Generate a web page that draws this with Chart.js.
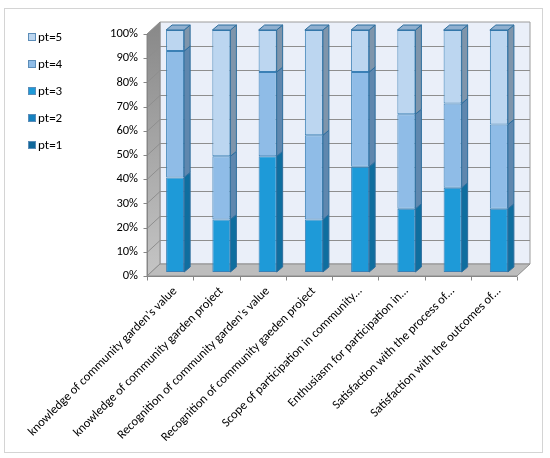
<!DOCTYPE html>
<html>
<head>
<meta charset="utf-8">
<script src="https://cdn.jsdelivr.net/npm/chart.js@4"></script>
<style>
  body { margin: 0; background: #fff; }
  canvas { display: block; }
</style>
</head>
<body>
<canvas id="surveyChart" width="550" height="458"></canvas>
<script>
// categories (survey items)
const categories = [
    "knowledge of community garden's value",
    'knowledge of community garden project',
    "Recognition of community garden's value",
    'Recognition of community gaeden project',
    'Scope of participation in community\u2026',
    'Enthusiasm for participation in\u2026',
    'Satisfaction with the process of\u2026',
    'Satisfaction with the outcomes of\u2026'
];

// share of answers per score, in percent
const pt1 = [0, 0, 0, 0, 0, 0, 0, 0];
const pt2 = [0, 0, 0, 0, 0, 0, 0, 0];
const pt3 = [39.1, 21.7, 47.8, 21.7, 43.5, 26.1, 34.8, 26.1];
const pt4 = [52.2, 26.1, 34.8, 34.8, 39.1, 39.1, 34.8, 34.8];
const pt5 = [8.7, 52.2, 17.4, 43.5, 17.4, 34.8, 30.4, 39.1];

const yTicks = [0, 10, 20, 30, 40, 50, 60, 70, 80, 90, 100];

const FONT = 'Carlito, "Liberation Sans", Arial, sans-serif';

// front colour, side colour, top colour per series
const palette = [
    { label: 'pt=1', data: pt1, front: '#11689A', side: '#0B4E75', top: '#3C84B0' },
    { label: 'pt=2', data: pt2, front: '#1681BF', side: '#0F6293', top: '#4A9CCF' },
    { label: 'pt=3', data: pt3, front: '#1E9AD8', side: '#0F6E9F', top: '#59B2E0' },
    { label: 'pt=4', data: pt4, front: '#8FBCE7', side: '#5F87AE', top: '#A9CBEC' },
    { label: 'pt=5', data: pt5, front: '#BCD6F0', side: '#7F95AB', top: '#8FAFCF' }
];

// 3d offsets relative to the bar plane
const FRONT = { x: -5, y: 4 };
const BACK = { x: 8, y: -8 };
const DEPTH = { x: 6, y: -5 };

function poly(ctx, pts, fill, stroke) {
    ctx.beginPath();
    ctx.moveTo(pts[0][0], pts[0][1]);
    for (let i = 1; i < pts.length; i++) ctx.lineTo(pts[i][0], pts[i][1]);
    ctx.closePath();
    if (fill) { ctx.fillStyle = fill; ctx.fill(); }
    if (stroke) { ctx.strokeStyle = stroke; ctx.lineWidth = 1; ctx.stroke(); }
}

const boxPlugin = {
    id: 'box3d',
    beforeDraw(chart) {
        const ctx = chart.ctx;
        ctx.save();
        ctx.fillStyle = '#fff';
        ctx.fillRect(0, 0, chart.width, chart.height);
        ctx.strokeStyle = '#D4D4D4';
        ctx.lineWidth = 1;
        ctx.strokeRect(4.5, 8.5, 538, 444);

        // legend, top to bottom pt=5 .. pt=1
        ctx.font = '13px ' + FONT;
        ctx.textBaseline = 'middle';
        ctx.textAlign = 'left';
        const items = chart.data.datasets.slice().reverse();
        items.forEach(function (ds, i) {
            const y = 37 + i * 27;
            ctx.fillStyle = ds.backgroundColor;
            ctx.fillRect(28, y - 4, 8, 8);
            ctx.strokeStyle = '#5C8DB8';
            ctx.strokeRect(28.5, y - 3.5, 7, 7);
            ctx.fillStyle = '#000';
            ctx.fillText(ds.label, 38, y + 0.5);
        });
        ctx.restore();
    },
    beforeDatasetsDraw(chart) {
        const ctx = chart.ctx;
        const ca = chart.chartArea;
        const ys = chart.scales.y;
        const y0 = ys.getPixelForValue(0);
        const y100 = ys.getPixelForValue(100);
        ctx.save();

        // back wall
        poly(ctx, [
            [ca.left + BACK.x, y100 + BACK.y], [ca.right + BACK.x, y100 + BACK.y],
            [ca.right + BACK.x, y0 + BACK.y], [ca.left + BACK.x, y0 + BACK.y]
        ], '#EAEFF9', '#9C9C9C');

        // left wall
        const g = ctx.createLinearGradient(0, y100, 0, y0);
        g.addColorStop(0, '#8A8A8A');
        g.addColorStop(1, '#C4C4C4');
        poly(ctx, [
            [ca.left + FRONT.x, y100 + FRONT.y], [ca.left + BACK.x, y100 + BACK.y],
            [ca.left + BACK.x, y0 + BACK.y], [ca.left + FRONT.x, y0 + FRONT.y]
        ], g, '#8C8C8C');

        // floor
        poly(ctx, [
            [ca.left + FRONT.x, y0 + FRONT.y], [ca.right + FRONT.x, y0 + FRONT.y],
            [ca.right + BACK.x, y0 + BACK.y], [ca.left + BACK.x, y0 + BACK.y]
        ], '#BDBDBD', '#8E8E8E');

        // grid lines on back and left walls
        ctx.strokeStyle = '#8E8E8E';
        ctx.lineWidth = 1;
        yTicks.forEach(function (v) {
            if (v === 0 || v === 100) return;
            const y = Math.round(ys.getPixelForValue(v)) + 0.5;
            ctx.beginPath();
            ctx.moveTo(ca.left + FRONT.x, y + FRONT.y);
            ctx.lineTo(ca.left + BACK.x, y + BACK.y);
            ctx.lineTo(ca.right + BACK.x, y + BACK.y);
            ctx.stroke();
        });

        // front axis lines and tick marks
        ctx.strokeStyle = '#868686';
        const fx = Math.round(ca.left + FRONT.x) + 0.5;
        const fy = Math.round(y0 + FRONT.y) + 0.5;
        ctx.beginPath();
        ctx.moveTo(fx, y100 + FRONT.y);
        ctx.lineTo(fx, fy);
        ctx.lineTo(ca.right + FRONT.x, fy);
        yTicks.forEach(function (v) {
            const y = Math.round(ys.getPixelForValue(v) + FRONT.y) + 0.5;
            ctx.moveTo(fx - 4, y);
            ctx.lineTo(fx, y);
        });
        const step = (ca.right - ca.left) / categories.length;
        for (let i = 0; i <= categories.length; i++) {
            const x = Math.round(ca.left + FRONT.x + i * step) + 0.5;
            ctx.moveTo(x, fy);
            ctx.lineTo(x, fy + 4);
        }
        ctx.stroke();
        ctx.restore();
    },
    afterDatasetsDraw(chart) {
        const ctx = chart.ctx;
        ctx.save();
        ctx.lineWidth = 1;
        const n = chart.data.labels.length;
        for (let j = 0; j < n; j++) {
            let topEl = null, topIdx = -1;
            chart.data.datasets.forEach(function (ds, i) {
                const el = chart.getDatasetMeta(i).data[j];
                if (!el || !ds.data[j]) return;
                const p = el.getProps(['x', 'y', 'base', 'width'], true);
                const r = p.x + p.width / 2;
                poly(ctx, [
                    [r, p.y], [r + DEPTH.x, p.y + DEPTH.y],
                    [r + DEPTH.x, p.base + DEPTH.y], [r, p.base]
                ], palette[i].side, '#2D6E9E');
                topEl = p; topIdx = i;
            });
            if (topEl) {
                const l = topEl.x - topEl.width / 2;
                const r = topEl.x + topEl.width / 2;
                poly(ctx, [
                    [l, topEl.y], [r, topEl.y],
                    [r + DEPTH.x, topEl.y + DEPTH.y], [l + DEPTH.x, topEl.y + DEPTH.y]
                ], palette[topIdx].top, '#2D6E9E');
            }
        }
        ctx.restore();
    }
};

const ctx = document.getElementById('surveyChart').getContext('2d');
new Chart(ctx, {
    type: 'bar',
    data: {
        labels: categories,
        datasets: palette.map(function (p) {
            return {
                label: p.label,
                data: p.data,
                backgroundColor: p.front,
                borderColor: '#3A80B6',
                borderWidth: 1,
                borderSkipped: false,
                categoryPercentage: 1,
                barPercentage: 0.39
            };
        })
    },
    options: {
        responsive: false,
        animation: false,
        layout: { padding: { left: 0, right: 28, top: 30, bottom: 0 } },
        plugins: { legend: { display: false }, tooltip: { enabled: false } },
        scales: {
            x: {
                stacked: true,
                grid: { display: false, drawTicks: false },
                border: { display: false },
                ticks: {
                    autoSkip: false,
                    minRotation: 45,
                    maxRotation: 45,
                    padding: 12,
                    color: '#000',
                    font: { family: FONT, size: 12.5 }
                },
                afterFit: function (s) { s.height = 186; }
            },
            y: {
                stacked: true,
                min: 0,
                max: 100,
                afterBuildTicks: function (s) { s.ticks = yTicks.map(function (v) { return { value: v }; }); },
                grid: { display: false, drawTicks: false },
                border: { display: false },
                ticks: {
                    padding: 14,
                    labelOffset: 4,
                    color: '#000',
                    font: { family: FONT, size: 12.5 },
                    callback: function (v) { return v + '%'; }
                },
                afterFit: function (s) { s.width = 152; }
            }
        }
    },
    plugins: [boxPlugin]
});
</script>
</body>
</html>
